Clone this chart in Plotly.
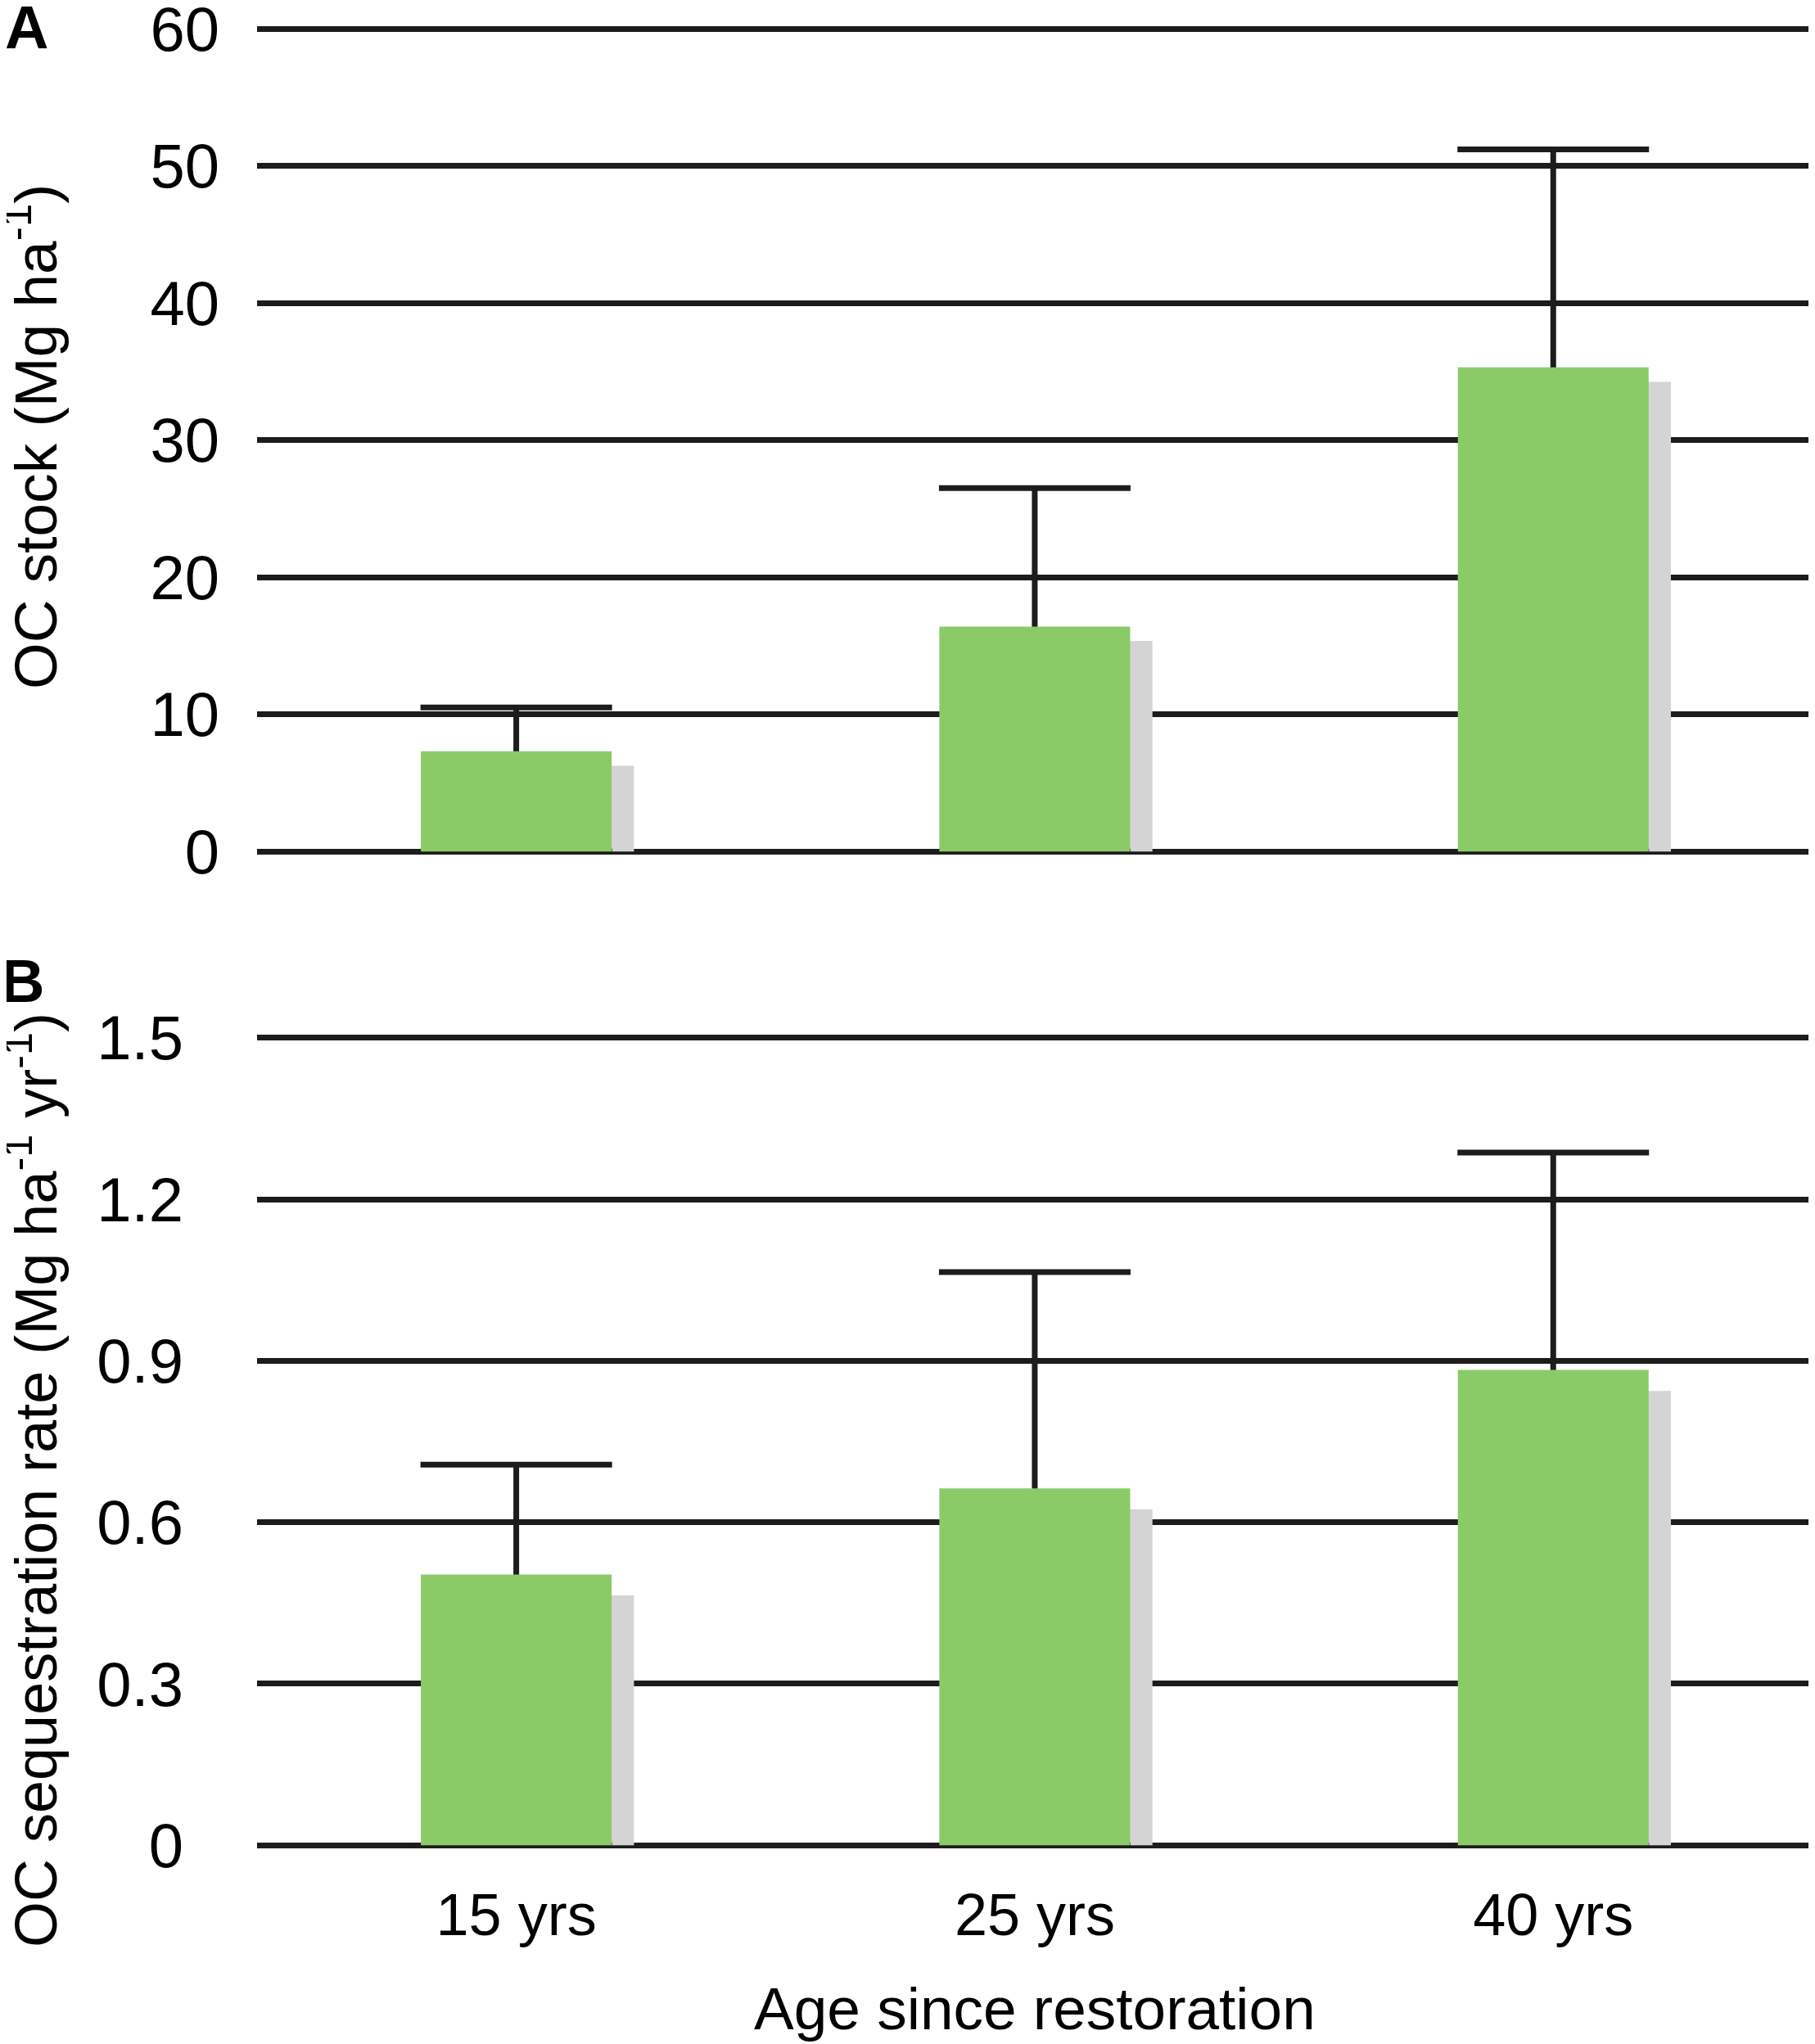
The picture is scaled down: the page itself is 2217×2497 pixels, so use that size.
import plotly.graph_objects as go

# data
ages = ['15 yrs', '25 yrs', '40 yrs']
oc_stock = [7.3, 16.4, 35.3]
oc_stock_err = [3.2, 10.1, 15.9]
seq_rate = [0.503, 0.663, 0.883]
seq_rate_err = [0.204, 0.402, 0.404]

GREEN = '#8acb67'
SHADOW = '#d4d4d4'
INK = '#1c1c1c'
FONT = 'Liberation Sans'

BAR_W = 0.368
SHADOW_SHIFT = 0.043       # shadow moved right, in category units
DROP_A, DROP_B = 1.05, 0.039  # shadow top lower than bar, in data units

W, H = 2217, 2497


def px(x, y):
    # pixel position (from top-left) -> paper fraction
    return x / W, 1 - y / H


def add_panel(fig, vals, errs, drop, xa, ya):
    # grey drop shadow behind each bar
    fig.add_trace(go.Bar(x=ages, y=[v - drop for v in vals], width=BAR_W,
                         offset=-BAR_W / 2 + SHADOW_SHIFT,
                         marker=dict(color=SHADOW, line_width=0),
                         xaxis=xa, yaxis=ya, showlegend=False, hoverinfo='skip'))
    # invisible bar carrying the error bars; the stem runs down to 0 and
    # the green bar drawn next hides everything below the bar top
    fig.add_trace(go.Bar(x=ages, y=vals, width=BAR_W, offset=-BAR_W / 2,
                         marker=dict(color='rgba(0,0,0,0)', line_width=0),
                         error_y=dict(type='data', array=errs, symmetric=False,
                                      arrayminus=vals,
                                      color=INK, thickness=7, width=117),
                         xaxis=xa, yaxis=ya, showlegend=False, hoverinfo='skip'))
    fig.add_trace(go.Bar(x=ages, y=vals, width=BAR_W, offset=-BAR_W / 2,
                         marker=dict(color=GREEN, line_width=0),
                         xaxis=xa, yaxis=ya, showlegend=False))


fig = go.Figure()
add_panel(fig, oc_stock, oc_stock_err, DROP_A, 'x', 'y')
add_panel(fig, seq_rate, seq_rate_err, DROP_B, 'x2', 'y2')

grid = dict(showgrid=True, gridcolor=INK, gridwidth=7, zeroline=True,
            zerolinecolor=INK, zerolinewidth=7, showline=False, ticks='',
            automargin=False, ticklabeloverflow='allow',
            tickfont=dict(family=FONT, size=76, color='black'))

fig.update_layout(
    template='none',
    width=W, height=H,
    margin=dict(l=0, r=0, t=0, b=0),
    paper_bgcolor='white', plot_bgcolor='white',
    barmode='overlay',
    font=dict(family=FONT, color='black'),
    xaxis=dict(domain=[0.138, 0.995], range=[-0.5, 2.5], anchor='y',
               showticklabels=False, showgrid=False, zeroline=False,
               automargin=False),
    yaxis=dict(domain=[0.5833, 0.9925], range=[-0.5, 60.5], dtick=10,
               anchor='x', ticklabelstandoff=45, **grid),
    xaxis2=dict(domain=[0.138, 0.995], range=[-0.5, 2.5], anchor='y2',
                showgrid=False, zeroline=False, ticks='', automargin=False,
                ticklabelstandoff=27, ticklabeloverflow='allow',
                tickfont=dict(family=FONT, size=72, color='black')),
    yaxis2=dict(domain=[0.0965, 0.4994], range=[-0.015, 1.515],
                tickvals=[0, 0.3, 0.6, 0.9, 1.2, 1.5],
                ticktext=['0', '0.3', '0.6', '0.9', '1.2', '1.5'],
                anchor='x2', ticklabelstandoff=89, **grid),
)

title_font = dict(family=FONT, size=73, color='black')
x, y = px(30, 526)
fig.add_annotation(text='OC stock (Mg ha<sup>-1</sup>)', textangle=-90,
                   x=x, y=y, xref='paper', yref='paper',
                   showarrow=False, font=title_font, xanchor='center', yanchor='middle')
x, y = px(30, 1800)
fig.add_annotation(text='OC sequestration rate (Mg ha<sup>-1</sup> yr<sup>-1</sup>)',
                   textangle=-90, x=x, y=y,
                   xref='paper', yref='paper', showarrow=False,
                   font=dict(family=FONT, size=72, color='black'),
                   xanchor='center', yanchor='middle')
x, y = px(1256, 2445)
fig.add_annotation(text='Age since restoration', x=x, y=y,
                   xref='paper', yref='paper', showarrow=False, font=title_font,
                   xanchor='center', yanchor='middle')
x, y = px(24, 26)
fig.add_annotation(text='<b>A</b>', x=x, y=y,
                   xref='paper', yref='paper', showarrow=False,
                   font=dict(family=FONT, size=74, color='black'),
                   xanchor='center', yanchor='middle')
x, y = px(19, 1190)
fig.add_annotation(text='<b>B</b>', x=x, y=y,
                   xref='paper', yref='paper', showarrow=False,
                   font=dict(family=FONT, size=74, color='black'),
                   xanchor='center', yanchor='middle')

fig.write_html("out.html")
